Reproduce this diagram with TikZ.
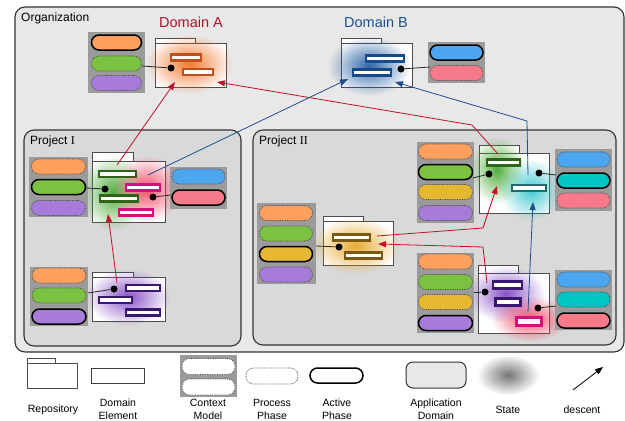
\documentclass[tikz,border=0pt]{standalone}
\usepackage{fontspec}
\setmainfont{Liberation Sans}
\newfontfamily\romfont{Liberation Serif}
\usetikzlibrary{arrows.meta,fadings,fit}
\definecolor{orgfill}{HTML}{E8E8E8}
\definecolor{projfill}{HTML}{D9D9D9}
\definecolor{ctxgray}{HTML}{9B9B9B}
\definecolor{pOrange}{HTML}{FFA05E}
\definecolor{pGreen}{HTML}{7CC242}
\definecolor{pPurple}{HTML}{A77BD9}
\definecolor{pBlue}{HTML}{4DA6F0}
\definecolor{pPink}{HTML}{F77A8A}
\definecolor{pTeal}{HTML}{00C5C5}
\definecolor{pYellow}{HTML}{E6B832}
\definecolor{eA}{HTML}{C0501A}
\definecolor{eB}{HTML}{164A8A}
\definecolor{eGreen}{HTML}{2E6418}
\definecolor{ePink}{HTML}{D4107A}
\definecolor{ePurple}{HTML}{3A1670}
\definecolor{eYellow}{HTML}{7A5A12}
\definecolor{eTeal}{HTML}{1F6B6B}
\definecolor{bOrange}{HTML}{F26B1D}
\definecolor{bBlue}{HTML}{1C55A0}
\definecolor{bGreen}{HTML}{3DA52A}
\definecolor{bPink}{HTML}{F03C5A}
\definecolor{bPurple}{HTML}{7B3FC0}
\definecolor{bYellow}{HTML}{E5A21F}
\definecolor{bTeal}{HTML}{2FC3CC}
\definecolor{arrRed}{HTML}{C0102A}
\definecolor{arrBlue}{HTML}{1F4E8C}
\definecolor{titleRed}{HTML}{B0102A}
\definecolor{titleBlue}{HTML}{1F4E8C}
\tikzfading[name=blobfade, inner color=transparent!10, outer color=transparent!100]
\tikzset{
  orgbox/.style={draw=black!80, line width=1.1pt, fill=orgfill, rounded corners=10pt, inner sep=0pt},
  projbox/.style={draw=black!80, line width=1.1pt, fill=projfill, rounded corners=10pt, inner sep=0pt},
  repo/.style={draw=black!70, line width=0.8pt, fill=white, inner sep=0pt},
  ctx/.style={fill=ctxgray, inner sep=0pt, draw=none},
  pill/.style={rounded corners=7.5pt, minimum width=52pt, minimum height=15pt, inner sep=0pt},
  proc/.style={pill, draw=black!75, densely dotted, line width=0.7pt},
  act/.style={pill, draw=black, line width=1.5pt},
  elem/.style={draw=#1, fill=white, line width=2.6pt, inner sep=0pt, minimum height=6pt},
  dotn/.style={circle, fill=black, inner sep=0pt, minimum size=7pt},
  link/.style={draw=black!85, line width=0.8pt},
  redarr/.style={draw=arrRed, line width=0.8pt, -{Triangle[length=8pt,width=6pt]}},
  bluearr/.style={draw=arrBlue, line width=0.8pt, -{Triangle[length=8pt,width=6pt]}},
  lbl/.style={font=\fontsize{10.5}{13}\selectfont, align=center, inner sep=0pt},
  ttl/.style={font=\fontsize{12}{14}\selectfont, anchor=west, inner sep=0pt}
}
\newcommand{\reposhape}[7]{%
  \draw[repo] (#2,#3) rectangle (#4,#5);
  \node[repo, fit={(#2,#5) (#6,#7)}] (#1) {};}
\newcommand{\blobat}[5]{%
  \fill[#1, path fading=blobfade, fit fading=true] (#2,#3) ellipse ({1.35*#4} and {1.35*#5});}
\begin{document}
\begin{tikzpicture}[x=1pt,y=-1pt]
\useasboundingbox (0,0) rectangle (625,421);
\fill[white] (0,0) rectangle (625,421);

% Organization and projects
\node[orgbox, fit={(15,7) (624,352)}] (org) {};
\node[ttl] (orglbl) at (21,18) {Organization};
\node[projbox, fit={(24,130) (241,346)}] (p1) {};
\node[ttl] (p1lbl) at (30,141) {Project {\romfont I}};
\node[projbox, fit={(253,130) (616,345)}] (p2) {};
\node[ttl] (p2lbl) at (259,141) {Project {\romfont II}};

% Titles
\node[font=\fontsize{14.5}{16}\selectfont, text=titleRed, inner sep=0pt] (tA) at (191,22) {Domain A};
\node[font=\fontsize{14.5}{16}\selectfont, text=titleBlue, inner sep=0pt] (tB) at (376,22) {Domain B};

% Repositories
\reposhape{RA}{155}{38}{195}{43}{226}{87}
\reposhape{RB}{341}{38}{381}{43}{412}{87}
\reposhape{R1}{92}{152}{133}{161}{165}{222}
\reposhape{R2}{92}{272}{133}{277}{165}{321}
\reposhape{R3}{323}{216}{363}{221}{393}{265}
\reposhape{R4}{479}{145}{519}{153}{549}{213}
\reposhape{R5}{478}{265}{518}{273}{549}{333}

% States (blobs)
\blobat{bOrange}{189}{64}{32}{22}
\blobat{bBlue}{369}{66}{31}{22}
\blobat{bGreen}{113}{193}{24}{28}
\blobat{bPink}{147}{189}{25}{25}
\blobat{bPurple}{128}{297}{31}{21}
\blobat{bYellow}{355}{246}{33}{21}
\blobat{bGreen}{497}{170}{20}{25}
\blobat{bTeal}{531}{190}{23}{23}
\blobat{bPurple}{506}{294}{29}{21}
\blobat{bPink}{530}{319}{29}{17}

% Domain elements
\node[elem=eA, minimum width=30pt] (a1) at (186,57.5) {};
\node[elem=eA, minimum width=30pt] (a2) at (198,72) {};
\node[elem=eB, minimum width=38pt] (b1) at (385,58.5) {};
\node[elem=eB, minimum width=38pt] (b2) at (372,72.5) {};
\node[elem=eGreen, minimum width=37pt] (g1) at (117.5,174) {};
\node[elem=eGreen, minimum width=38pt] (g2) at (119,198.5) {};
\node[elem=ePink, minimum width=34pt] (k1) at (143,187.5) {};
\node[elem=ePink, minimum width=34pt] (k2) at (136,212.5) {};
\node[elem=ePurple, minimum width=34pt] (u1) at (143,288) {};
\node[elem=ePurple, minimum width=33pt] (u2) at (115.5,300) {};
\node[elem=ePurple, minimum width=34pt] (u3) at (143,312.5) {};
\node[elem=eYellow, minimum width=37pt] (y1) at (351.5,237.5) {};
\node[elem=eYellow, minimum width=37pt] (y2) at (363.5,255.5) {};
\node[elem=eGreen, minimum width=33pt] (gg) at (503.5,162.5) {};
\node[elem=eTeal, minimum width=34pt] (tt) at (529,188) {};
\node[elem=ePurple, minimum width=29pt, minimum height=7.5pt] (v1) at (507.5,285) {};
\node[elem=ePurple, minimum width=25pt, minimum height=7.5pt] (v2) at (508,302) {};
\node[elem=ePink, minimum width=25pt, minimum height=8.5pt] (pk) at (529,321.5) {};

% Context models
\node[ctx, minimum width=57pt, minimum height=61pt] (cA) at (116.5,62.5) {};
\node[act, fill=pOrange, minimum width=50pt] (cA1) at (116.5,42.5) {};
\node[proc, fill=pGreen, minimum width=50pt] (cA2) at (116.5,63.5) {};
\node[proc, fill=pPurple, minimum width=50pt] (cA3) at (116.5,83) {};

\node[ctx, minimum width=57pt, minimum height=41pt] (cB) at (456.5,62.5) {};
\node[act, fill=pBlue, minimum width=53pt] (cB1) at (456.5,52.5) {};
\node[proc, fill=pPink, minimum width=53pt] (cB2) at (456.5,73) {};

\node[ctx, minimum width=59pt, minimum height=60pt] (c1) at (58.5,187) {};
\node[proc, fill=pOrange, minimum width=54pt] (c1a) at (58.5,166.5) {};
\node[act, fill=pGreen, minimum width=54pt] (c1b) at (58.5,187) {};
\node[proc, fill=pPurple, minimum width=54pt] (c1c) at (58.5,208) {};

\node[ctx, minimum width=57pt, minimum height=42pt] (c2) at (198.5,188) {};
\node[proc, fill=pBlue, minimum width=53pt] (c2a) at (198.5,176.5) {};
\node[act, fill=pPink, minimum width=53pt] (c2b) at (198.5,197.5) {};

\node[ctx, minimum width=58pt, minimum height=59pt] (c3) at (59,296.5) {};
\node[proc, fill=pOrange, minimum width=54pt] (c3a) at (59,275.5) {};
\node[proc, fill=pGreen, minimum width=54pt] (c3b) at (59,295.5) {};
\node[act, fill=pPurple, minimum width=54pt] (c3c) at (59,316.5) {};

\node[ctx, minimum width=59pt, minimum height=81pt] (c4) at (286.5,243.5) {};
\node[proc, fill=pOrange, minimum width=53pt] (c4a) at (286,213) {};
\node[proc, fill=pGreen, minimum width=53pt] (c4b) at (286,233.5) {};
\node[act, fill=pYellow, minimum width=53pt] (c4c) at (286,254) {};
\node[proc, fill=pPurple, minimum width=53pt] (c4d) at (286,274.5) {};

\node[ctx, minimum width=57pt, minimum height=81pt] (c5) at (445.5,182.5) {};
\node[proc, fill=pOrange, minimum width=54pt] (c5a) at (445.5,151.5) {};
\node[act, fill=pGreen, minimum width=54pt] (c5b) at (445.5,172) {};
\node[proc, fill=pYellow, minimum width=54pt] (c5c) at (445.5,192) {};
\node[proc, fill=pPurple, minimum width=54pt] (c5d) at (445.5,213) {};

\node[ctx, minimum width=57pt, minimum height=62pt] (c6) at (583.5,180) {};
\node[proc, fill=pBlue, minimum width=53pt] (c6a) at (583.5,159.5) {};
\node[act, fill=pTeal, minimum width=53pt] (c6b) at (583.5,180.5) {};
\node[proc, fill=pPink, minimum width=53pt] (c6c) at (583.5,200.5) {};

\node[ctx, minimum width=57pt, minimum height=80pt] (c7) at (445.5,293) {};
\node[proc, fill=pOrange, minimum width=54pt] (c7a) at (445.5,261.5) {};
\node[proc, fill=pGreen, minimum width=54pt] (c7b) at (445.5,282) {};
\node[proc, fill=pYellow, minimum width=54pt] (c7c) at (445.5,302) {};
\node[act, fill=pPurple, minimum width=54pt] (c7d) at (445.5,323) {};

\node[ctx, minimum width=57pt, minimum height=60pt] (c8) at (583.5,300) {};
\node[proc, fill=pBlue, minimum width=53pt] (c8a) at (583.5,279.5) {};
\node[proc, fill=pTeal, minimum width=53pt] (c8b) at (583.5,299.5) {};
\node[act, fill=pPink, minimum width=53pt] (c8c) at (583.5,320.5) {};

% Dots and links
\node[dotn] (dA) at (171,68) {};
\node[dotn] (dB) at (401,69) {};
\node[dotn] (d1) at (105,189) {};
\node[dotn] (d2) at (153,197) {};
\node[dotn] (d3) at (114,289) {};
\node[dotn] (d4) at (339,247) {};
\node[dotn] (d5) at (489,174) {};
\node[dotn] (d6) at (539,173) {};
\node[dotn] (d7) at (485,292) {};
\node[dotn] (d8) at (538,308) {};
\coordinate (kA) at (142,66);
\coordinate (kB) at (430,67);
\coordinate (k1) at (86,188);
\coordinate (k2) at (171,195);
\coordinate (k3) at (88,293);
\coordinate (k4) at (316,246);
\coordinate (k5) at (473,178);
\coordinate (k6) at (556,175);
\coordinate (k7) at (474,292);
\coordinate (k8) at (556,306);
\draw[link] (kA) -- (dA);
\draw[link] (dB) -- (kB);
\draw[link] (k1) -- (d1);
\draw[link] (d2) -- (k2);
\draw[link] (k3) -- (d3);
\draw[link] (k4) -- (d4);
\draw[link] (k5) -- (d5);
\draw[link] (d6) -- (k6);
\draw[link] (k7) -- (d7);
\draw[link] (d8) -- (k8);

% Descent arrows
\coordinate (s1) at (117,165);  \coordinate (t1) at (175,82);
\coordinate (s2) at (148,175);  \coordinate (t2) at (348,79);
\coordinate (s3) at (498,154);  \coordinate (m3) at (472,125); \coordinate (t3) at (217,82);
\coordinate (s4) at (528,175);  \coordinate (m4) at (527,121); \coordinate (t4) at (395,82);
\coordinate (s5) at (117,283);  \coordinate (t5) at (108,214);
\coordinate (s6) at (377,236);  \coordinate (m6) at (483,228); \coordinate (t6) at (497,186);
\coordinate (s7) at (487,283);  \coordinate (m7) at (483,247); \coordinate (t7) at (378,244);
\coordinate (s8) at (528,312);  \coordinate (t8) at (533,202);
\draw[redarr] (s1) -- (t1);
\draw[bluearr] (s2) -- (t2);
\draw[redarr] (s3) -- (m3) -- (t3);
\draw[bluearr] (s4) -- (m4) -- (t4);
\draw[redarr] (s5) -- (t5);
\draw[redarr] (s6) -- (m6) -- (t6);
\draw[redarr] (s7) -- (m7) -- (t7);
\draw[bluearr] (s8) -- (t8);

% Legend
\reposhape{lrepo}{27}{358}{55}{363}{77}{388}
\node[draw=black!75, line width=0.8pt, fill=white, minimum width=53pt, minimum height=15pt, inner sep=0pt] (lelem) at (117.5,375.5) {};
\node[ctx, minimum width=57pt, minimum height=42pt] (lctx) at (208.5,376) {};
\node[proc, fill=white, minimum width=53pt, minimum height=16pt] (lctx1) at (208.5,366.5) {};
\node[proc, fill=white, minimum width=53pt, minimum height=16pt] (lctx2) at (208.5,387) {};
\node[proc, fill=white, minimum width=52pt, minimum height=16pt] (lproc) at (272,376) {};
\node[act, fill=white, minimum width=53pt, minimum height=15pt] (lact) at (336.5,375.5) {};
\node[draw=black!80, line width=1pt, fill=orgfill, rounded corners=7pt, minimum width=60pt, minimum height=26pt, inner sep=0pt] (lapp) at (436,375) {};
\blobat{black!60}{508}{375}{23}{15}
\coordinate (ld1) at (573,390); \coordinate (ld2) at (603,367);
\draw[line width=0.8pt, -{Triangle[length=8pt,width=6pt]}] (ld1) -- (ld2);

\node[lbl] (L1) at (53,410) {Repository};
\node[lbl] (L2) at (118,409) {Domain\\Element};
\node[lbl] (L3) at (208,409) {Context\\Model};
\node[lbl] (L4) at (272,409) {Process\\Phase};
\node[lbl] (L5) at (337,409) {Active\\Phase};
\node[lbl] (L6) at (436,409) {Application\\Domain};
\node[lbl] (L7) at (508,410) {State};
\node[lbl] (L8) at (582,410) {descent};
\end{tikzpicture}
\end{document}
